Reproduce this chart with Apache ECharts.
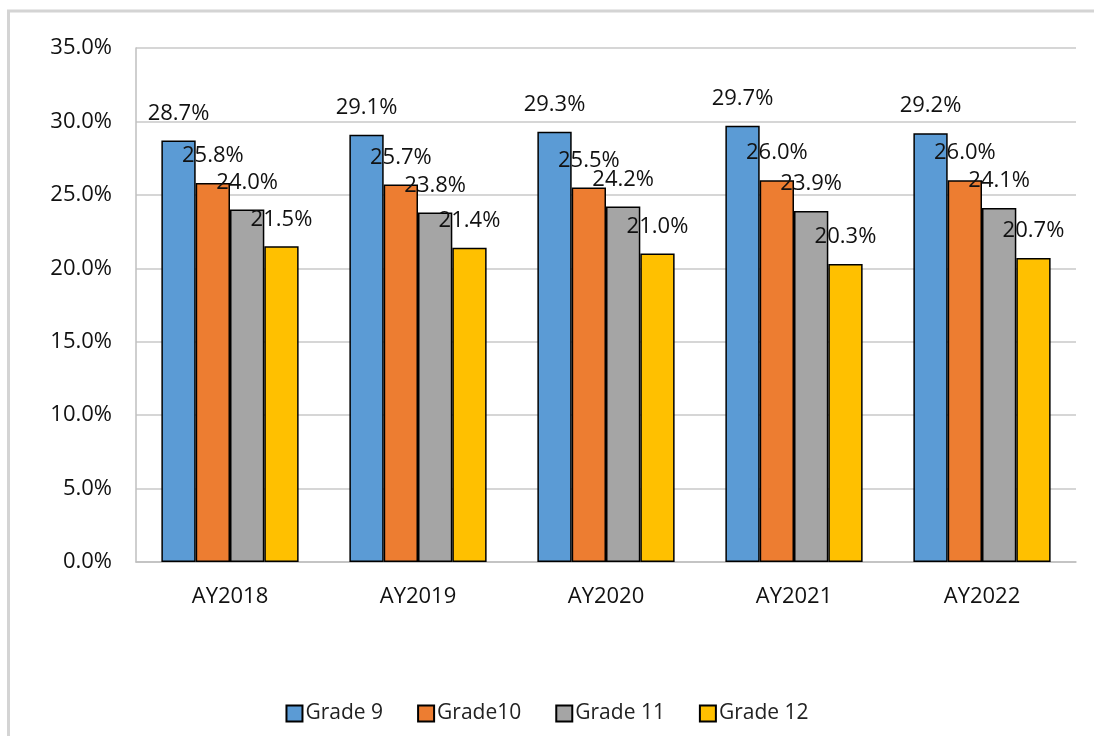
<!DOCTYPE html>
<html>
<head>
<meta charset="utf-8">
<script src="https://cdn.jsdelivr.net/npm/echarts@6/dist/echarts.min.js"></script>
<style>
html,body{margin:0;padding:0;background:#fff;}
#chart{width:1094px;height:736px;}
</style>
</head>
<body>
<div id="chart"></div>
<script>
var categories = ['AY2018', 'AY2019', 'AY2020', 'AY2021', 'AY2022'];
var seriesNames = ['Grade 9', 'Grade10', 'Grade 11', 'Grade 12'];
var grade9 = [28.7, 29.1, 29.3, 29.7, 29.2];
var grade10 = [25.8, 25.7, 25.5, 26.0, 26.0];
var grade11 = [24.0, 23.8, 24.2, 23.9, 24.1];
var grade12 = [21.5, 21.4, 21.0, 20.3, 20.7];
var yTicks = [0, 5, 10, 15, 20, 25, 30, 35];

var colors = ['#5B9BD5', '#ED7D31', '#A5A5A5', '#FFC000'];
var FONT = 'Open Sans';
var seriesData = [grade9, grade10, grade11, grade12];

var chart = echarts.init(document.getElementById('chart'));
var option = {
  animation: false,
  backgroundColor: '#fff',
  textStyle: { fontFamily: FONT },
  graphic: [{
    type: 'rect',
    shape: { x: 8.5, y: 11, width: 1200, height: 900 },
    style: { fill: 'none', stroke: '#d4d4d4', lineWidth: 3 },
    silent: true
  }],
  grid: { left: 136, right: 18, top: 48, bottom: 174 },
  legend: {
    bottom: 7,
    left: 'center',
    itemWidth: 16,
    itemHeight: 16,
    itemGap: 34,
    icon: 'rect',
    textStyle: { fontFamily: FONT, fontSize: 21, color: '#222', padding: [0, 0, 0, -2] },
    data: seriesNames
  },
  xAxis: {
    type: 'category',
    data: categories,
    axisLine: { lineStyle: { color: '#bfbfbf', width: 1.5 } },
    axisTick: { show: false },
    axisLabel: { fontFamily: FONT, fontSize: 22, color: '#111', margin: 24 }
  },
  yAxis: {
    type: 'value',
    min: 0,
    max: 35,
    interval: 5,
    axisLine: { show: true, lineStyle: { color: '#bfbfbf', width: 1.5 } },
    axisTick: { show: false },
    splitLine: { lineStyle: { color: '#c8c8c8', width: 1.5 } },
    axisLabel: {
      fontFamily: FONT, fontSize: 22, color: '#111', margin: 24,
      formatter: function (v) { return v.toFixed(1) + '%'; }
    }
  },
  series: seriesNames.map(function (name, i) {
    return {
      name: name,
      type: 'bar',
      data: seriesData[i],
      barGap: '0%',
      barCategoryGap: '27%',
      itemStyle: { color: colors[i], borderColor: '#000', borderWidth: 1.5 },
      label: {
        show: true,
        position: 'top',
        distance: 16,
        fontFamily: FONT,
        fontSize: 22,
        color: '#111',
        formatter: function (p) { return p.value.toFixed(1) + '%'; }
      }
    };
  })
};
chart.setOption(option);
</script>
</body>
</html>
